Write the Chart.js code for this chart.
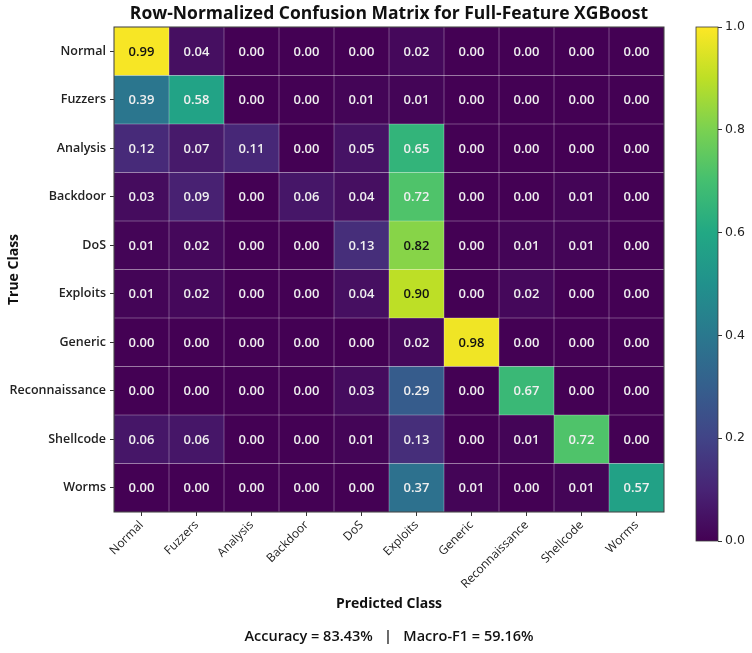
<!DOCTYPE html>
<html>
<head>
<meta charset="utf-8">
<script src="https://cdn.jsdelivr.net/npm/chart.js@4.4.0/dist/chart.umd.min.js"></script>
<style>
  html, body { margin: 0; padding: 0; background: #ffffff; }
  #wrap { position: relative; width: 752px; height: 653px; overflow: hidden; }
  #main { position: absolute; left: 0; top: 0; }
  #cbar { position: absolute; left: 690px; top: 0; }
</style>
</head>
<body>
<div id="wrap">
  <canvas id="main" width="752" height="653"></canvas>
  <canvas id="cbar" width="62" height="653"></canvas>
</div>
<script>
// ---- data ----
const trueClasses = ["Normal", "Fuzzers", "Analysis", "Backdoor", "DoS", "Exploits", "Generic", "Reconnaissance", "Shellcode", "Worms"];
const predClasses = ["Normal", "Fuzzers", "Analysis", "Backdoor", "DoS", "Exploits", "Generic", "Reconnaissance", "Shellcode", "Worms"];

const rowNormal         = [0.99, 0.04, 0.00, 0.00, 0.00, 0.02, 0.00, 0.00, 0.00, 0.00];
const rowFuzzers        = [0.39, 0.58, 0.00, 0.00, 0.01, 0.01, 0.00, 0.00, 0.00, 0.00];
const rowAnalysis       = [0.12, 0.07, 0.11, 0.00, 0.05, 0.65, 0.00, 0.00, 0.00, 0.00];
const rowBackdoor       = [0.03, 0.09, 0.00, 0.06, 0.04, 0.72, 0.00, 0.00, 0.01, 0.00];
const rowDoS            = [0.01, 0.02, 0.00, 0.00, 0.13, 0.82, 0.00, 0.01, 0.01, 0.00];
const rowExploits       = [0.01, 0.02, 0.00, 0.00, 0.04, 0.90, 0.00, 0.02, 0.00, 0.00];
const rowGeneric        = [0.00, 0.00, 0.00, 0.00, 0.00, 0.02, 0.98, 0.00, 0.00, 0.00];
const rowReconnaissance = [0.00, 0.00, 0.00, 0.00, 0.03, 0.29, 0.00, 0.67, 0.00, 0.00];
const rowShellcode      = [0.06, 0.06, 0.00, 0.00, 0.01, 0.13, 0.00, 0.01, 0.72, 0.00];
const rowWorms          = [0.00, 0.00, 0.00, 0.00, 0.00, 0.37, 0.01, 0.00, 0.01, 0.57];
const matrixRows = [rowNormal, rowFuzzers, rowAnalysis, rowBackdoor, rowDoS, rowExploits,
                    rowGeneric, rowReconnaissance, rowShellcode, rowWorms];

const colorbarTicks = [0.0, 0.2, 0.4, 0.6, 0.8, 1.0];
const titleText = "Row-Normalized Confusion Matrix for Full-Feature XGBoost";
const xTitleText = "Predicted Class";
const yTitleText = "True Class";
const footerText = "Accuracy = 83.43%   |   Macro-F1 = 59.16%";

// ---- viridis colormap ----
const viridisStops = ["#440154", "#482475", "#414487", "#355f8d", "#2a788e", "#21918c",
                      "#22a884", "#44bf70", "#7ad151", "#bddf26", "#fde725"];
function hexToRgb(h) {
  return [parseInt(h.slice(1, 3), 16), parseInt(h.slice(3, 5), 16), parseInt(h.slice(5, 7), 16)];
}
function viridis(t) {
  t = Math.max(0, Math.min(1, t));
  const n = viridisStops.length - 1;
  const i = Math.min(n - 1, Math.floor(t * n));
  const f = t * n - i;
  const a = hexToRgb(viridisStops[i]), b = hexToRgb(viridisStops[i + 1]);
  const c = a.map((v, k) => Math.round(v + (b[k] - v) * f));
  return `rgb(${c[0]},${c[1]},${c[2]})`;
}

const cellData = [];
matrixRows.forEach((row, i) => row.forEach((v, j) => cellData.push({ x: j, y: i, v: v })));

const FONT = "'Open Sans', 'Noto Sans', 'DejaVu Sans', sans-serif";

const heatmapPlugin = {
  id: 'heatmap',
  beforeDatasetsDraw(chart) {
    const { ctx, scales: { x, y } } = chart;
    const pts = chart.data.datasets[0].data;
    ctx.save();
    pts.forEach(p => {
      const x0 = x.getPixelForValue(p.x - 0.5), x1 = x.getPixelForValue(p.x + 0.5);
      const y0 = y.getPixelForValue(p.y - 0.5), y1 = y.getPixelForValue(p.y + 0.5);
      ctx.fillStyle = viridis(p.v);
      ctx.fillRect(Math.min(x0, x1), Math.min(y0, y1), Math.abs(x1 - x0), Math.abs(y1 - y0));
    });
    ctx.strokeStyle = 'rgba(255,255,255,0.2)';
    ctx.lineWidth = 0.8;
    pts.forEach(p => {
      const x0 = x.getPixelForValue(p.x - 0.5), x1 = x.getPixelForValue(p.x + 0.5);
      const y0 = y.getPixelForValue(p.y - 0.5), y1 = y.getPixelForValue(p.y + 0.5);
      ctx.strokeRect(Math.min(x0, x1), Math.min(y0, y1), Math.abs(x1 - x0), Math.abs(y1 - y0));
    });
    const a = chart.chartArea;
    ctx.strokeStyle = '#3a3a3a';
    ctx.lineWidth = 1;
    ctx.strokeRect(a.left, a.top, a.right - a.left, a.bottom - a.top);
    ctx.restore();
  },
  afterDatasetsDraw(chart) {
    const { ctx, scales: { x, y } } = chart;
    const pts = chart.data.datasets[0].data;
    ctx.save();
    ctx.font = `600 13px ${FONT}`;
    ctx.textAlign = 'center';
    ctx.textBaseline = 'middle';
    pts.forEach(p => {
      ctx.fillStyle = p.v >= 0.8 ? '#111111' : '#f0f0f0';
      ctx.fillText(p.v.toFixed(2), x.getPixelForValue(p.x), y.getPixelForValue(p.y) + 1);
    });
    ctx.restore();
  }
};

new Chart(document.getElementById('main'), {
  type: 'scatter',
  data: { datasets: [{ data: cellData, pointRadius: 0, pointHoverRadius: 0 }] },
  options: {
    responsive: false,
    animation: false,
    events: [],
    layout: { padding: { left: 0, right: 88, top: 0, bottom: 0 } },
    plugins: {
      legend: { display: false },
      tooltip: { enabled: false },
      title: {
        display: true, text: titleText, fullSize: false, color: '#111',
        font: { family: FONT, size: 17.5, weight: 'bold' },
        padding: { top: 3.5, bottom: 2.5 }
      },
      subtitle: {
        display: true, text: footerText, position: 'bottom', fullSize: false, color: '#111',
        font: { family: FONT, size: 14.5, weight: '600' },
        padding: { top: 0, bottom: 7.8 }
      }
    },
    scales: {
      x: {
        type: 'linear', min: -0.5, max: 9.5,
        afterBuildTicks: s => { s.ticks = predClasses.map((_, i) => ({ value: i })); },
        afterFit: s => { s.height = 115.8; },
        ticks: {
          callback: v => predClasses[Math.round(v)],
          minRotation: 45, maxRotation: 45, autoSkip: false,
          padding: 2, color: '#222',
          font: { family: FONT, size: 12 }
        },
        grid: { drawOnChartArea: false, drawTicks: true, tickLength: 4, color: '#333' },
        border: { display: false },
        title: {
          display: true, text: xTitleText, color: '#111',
          font: { family: FONT, size: 14, weight: 'bold' },
          padding: { top: 4, bottom: 15.4 }
        }
      },
      y: {
        type: 'linear', min: -0.5, max: 9.5, reverse: true,
        afterBuildTicks: s => { s.ticks = trueClasses.map((_, i) => ({ value: i })); },
        afterFit: s => { s.width = 114; },
        ticks: {
          callback: v => trueClasses[Math.round(v)],
          autoSkip: false, padding: 4, color: '#222',
          font: { family: FONT, size: 12.5, weight: '600' }
        },
        grid: { drawOnChartArea: false, drawTicks: true, tickLength: 4, color: '#333' },
        border: { display: false },
        title: {
          display: true, text: yTitleText, color: '#111',
          font: { family: FONT, size: 14, weight: 'bold' },
          padding: { top: 5.6, bottom: 4 }
        }
      }
    }
  },
  plugins: [heatmapPlugin]
});

// ---- colorbar ----
const colorbarPlugin = {
  id: 'colorbar',
  beforeDatasetsDraw(chart) {
    const { ctx, chartArea: a, scales: { y } } = chart;
    const g = ctx.createLinearGradient(0, y.getPixelForValue(0), 0, y.getPixelForValue(1));
    viridisStops.forEach((c, i) => g.addColorStop(i / (viridisStops.length - 1), c));
    ctx.save();
    ctx.fillStyle = g;
    ctx.fillRect(a.left, a.top, a.right - a.left, a.bottom - a.top);
    ctx.strokeStyle = '#3a3a3a';
    ctx.lineWidth = 0.8;
    ctx.strokeRect(a.left, a.top, a.right - a.left, a.bottom - a.top);
    ctx.restore();
  }
};

new Chart(document.getElementById('cbar'), {
  type: 'scatter',
  data: { datasets: [{ data: [], pointRadius: 0 }] },
  options: {
    responsive: false,
    animation: false,
    events: [],
    layout: { padding: { left: 6, right: 0, top: 27, bottom: 112 } },
    plugins: { legend: { display: false }, tooltip: { enabled: false } },
    scales: {
      x: { display: false, min: 0, max: 1 },
      y: {
        position: 'right', min: 0, max: 1,
        afterBuildTicks: s => { s.ticks = colorbarTicks.map(v => ({ value: v })); },
        afterFit: s => { s.width = 34; },
        ticks: {
          callback: v => Number(v).toFixed(1), padding: 3, color: '#222',
          font: { family: "'DejaVu Sans', sans-serif", size: 12.5 }
        },
        grid: { drawOnChartArea: false, drawTicks: true, tickLength: 4, color: '#333' },
        border: { display: false }
      }
    }
  },
  plugins: [colorbarPlugin]
});
</script>
</body>
</html>
